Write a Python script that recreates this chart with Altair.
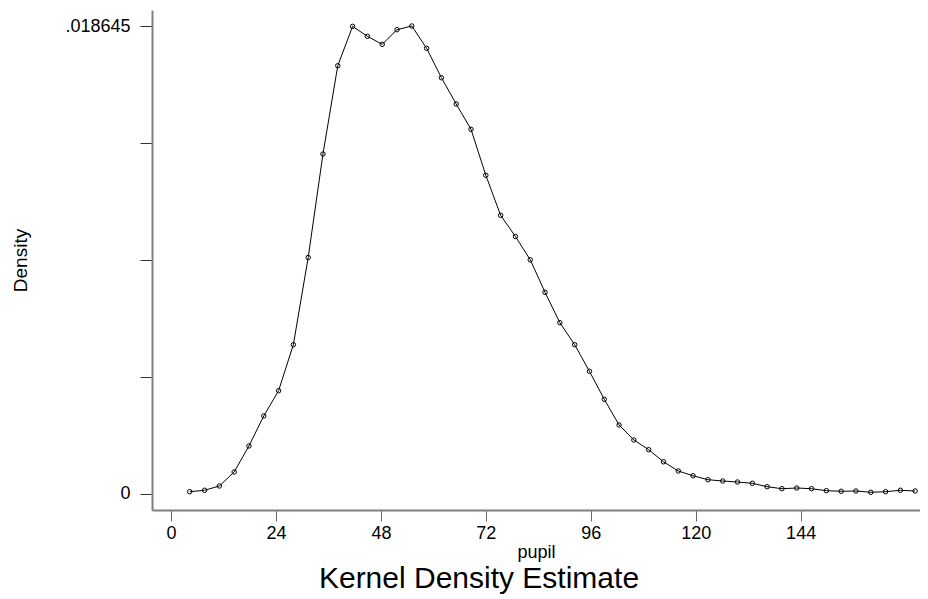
import altair as alt
import pandas as pd

# Kernel density estimate of pupil (50 evaluation points)
pupil = [4.28, 7.67, 11.05, 14.44, 17.82, 21.21, 24.60, 27.98, 31.37, 34.75,
         38.14, 41.53, 44.91, 48.30, 51.68, 55.07, 58.46, 61.84, 65.23, 68.61,
         72.00, 75.39, 78.77, 82.16, 85.54, 88.93, 92.32, 95.70, 99.09, 102.47,
         105.86, 109.25, 112.63, 116.02, 119.40, 122.79, 126.18, 129.56, 132.95, 136.33,
         139.72, 143.11, 146.49, 149.88, 153.26, 156.65, 160.04, 163.42, 166.81, 170.19]
density = [0.0000797, 0.000136, 0.000307, 0.000865, 0.001902, 0.003098, 0.004106, 0.005940, 0.009416, 0.013542,
           0.017062, 0.018630, 0.018234, 0.017915, 0.018497, 0.018645, 0.017756, 0.016584, 0.015535, 0.014527,
           0.012693, 0.011098, 0.010253, 0.009324, 0.008029, 0.006817, 0.005940, 0.004880, 0.003763, 0.002739,
           0.002141, 0.001754, 0.001272, 0.000905, 0.000714, 0.000558, 0.000506, 0.000466, 0.000415, 0.000279,
           0.000199, 0.000227, 0.000199, 0.000120, 0.0000957, 0.000108, 0.0000558, 0.0000797, 0.000136, 0.000108]

x_ticks = [0, 24, 48, 72, 96, 120, 144]
y_ticks = [0, 0.00466125, 0.0093225, 0.01398375, 0.018645]

df = pd.DataFrame({"pupil": pupil, "density": density})

FONT = "Liberation Sans"

x_enc = alt.X(
    "pupil:Q",
    scale=alt.Scale(domain=[-4.35, 171.3], nice=False, zero=False),
    axis=alt.Axis(
        values=x_ticks, title="pupil", grid=False,
        tickSize=11, tickColor="#666666", tickWidth=1,
        domainColor="#808080", domainWidth=2,
        labelFont=FONT, labelFontSize=18, labelColor="black", labelPadding=3,
        titleFont=FONT, titleFontSize=18, titleFontWeight="normal", titleColor="black",
        titlePadding=1,
    ),
)
y_enc = alt.Y(
    "density:Q",
    scale=alt.Scale(domain=[-0.00065, 0.019283], nice=False, zero=False),
    axis=alt.Axis(
        values=y_ticks, title="Density", grid=False,
        labelExpr="datum.value == 0 ? '0' : (datum.value > 0.0186 ? '.018645' : '')",
        tickSize=12, tickColor="#333333", tickWidth=1,
        domainColor="#808080", domainWidth=2,
        labelFont=FONT, labelFontSize=18, labelColor="black", labelPadding=10,
        titleFont=FONT, titleFontSize=19, titleFontWeight="normal", titleColor="black",
        titlePadding=34,
    ),
)

base = alt.Chart(df).encode(x=x_enc, y=y_enc)
line = base.mark_line(color="black", strokeWidth=1)
pts = base.mark_point(shape="circle", filled=False, color="black", size=20,
                      strokeWidth=1, opacity=1)

chart = (
    alt.layer(line, pts)
    .properties(
        width=768, height=500,
        autosize=alt.AutoSizeParams(type="none"),
        padding={"left": 144, "top": 2, "right": 0, "bottom": 88},
        title=alt.TitleParams(
            "Kernel Density Estimate", orient="bottom", anchor="middle",
            dx=-57, offset=3, fontSize=30, font=FONT, fontWeight="normal",
            color="black",
        ),
        background="white",
    )
    .configure_view(stroke=None)
)

chart.save("out.html", embed_options={"renderer": "svg", "actions": False})
